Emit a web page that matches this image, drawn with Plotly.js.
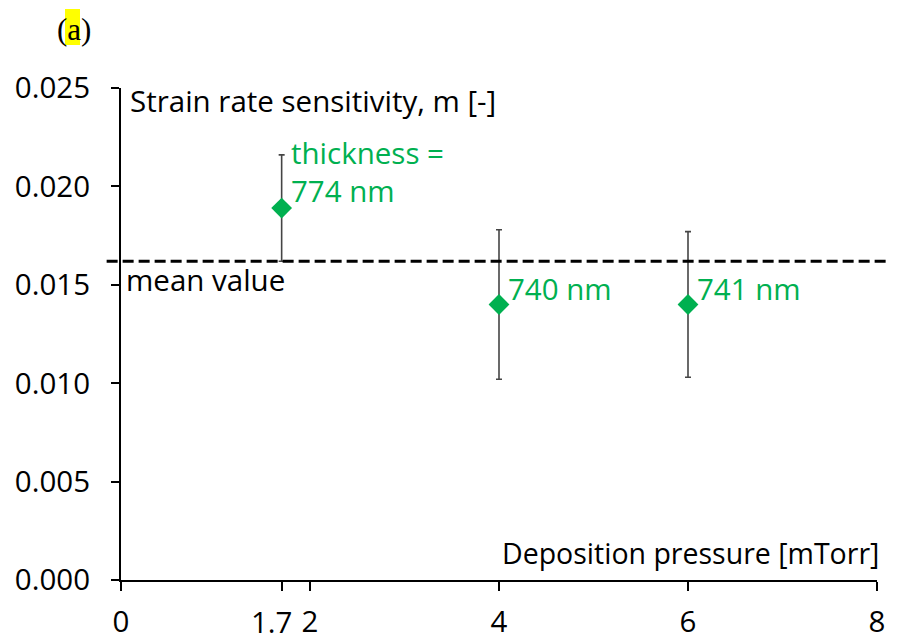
<!DOCTYPE html>
<html>
<head>
<meta charset="utf-8">
<script src="https://cdn.plot.ly/plotly-3.0.1.min.js"></script>
<style>
  html, body { margin: 0; padding: 0; background: #fff; }
  #chart { width: 897px; height: 641px; }
</style>
</head>
<body>
<div id="chart"></div>
<script>
// Deposition pressure [mTorr] and strain rate sensitivity m with error bars
const pressure = [1.7, 4, 6];
const sensitivity = [0.0189, 0.0140, 0.0140];
const sensitivityErr = [0.0027, 0.0038, 0.0037];
const thicknessLabels = ['thickness =<br>774 nm', '740 nm', '741 nm'];
const meanValue = 0.0162;

const xTickVals = [0, 1.7, 2, 4, 6, 8];
// "1.7" is written separately (shifted left) so it clears the "2" beside it
const xTickText = ['0', '', '2', '4', '6', '8'];
const shiftedTick = { value: 1.7, text: '1.7' };
const yTickVals = [0, 0.005, 0.010, 0.015, 0.020, 0.025];

const xRange = [0, 8];
const yRange = [0, 0.025];

const green = '#00B050';
const font = '"Open Sans", Lato, sans-serif';
const fs = 29.5;

const trace = {
  x: pressure,
  y: sensitivity,
  type: 'scatter',
  mode: 'markers',
  marker: { symbol: 'diamond', size: 16, color: green },
  error_y: {
    type: 'data',
    array: sensitivityErr,
    visible: true,
    color: '#454545',
    thickness: 1.6,
    width: 3
  },
  cliponaxis: false,
  showlegend: false,
  hoverinfo: 'x+y'
};

// green thickness labels, placed beside each point
const labelAnns = pressure.map((p, i) => ({
  x: p,
  y: sensitivity[i],
  xref: 'x',
  yref: 'y',
  text: thicknessLabels[i],
  showarrow: false,
  xanchor: 'left',
  yanchor: 'middle',
  xshift: 7,
  yshift: i === 0 ? 37 : 16,
  align: 'left',
  font: { family: font, size: fs, color: green }
}));

const layout = {
  width: 897,
  height: 641,
  margin: { l: 121, r: 20, t: 88, b: 61 },
  paper_bgcolor: '#ffffff',
  plot_bgcolor: '#ffffff',
  font: { family: font, size: fs, color: '#000' },
  xaxis: {
    range: xRange,
    tickvals: xTickVals,
    ticktext: xTickText,
    tickangle: 0,
    showgrid: false,
    zeroline: false,
    showline: true,
    linecolor: '#000',
    linewidth: 2,
    ticks: 'outside',
    ticklen: 9,
    tickwidth: 2,
    tickcolor: '#000',
    ticklabelstandoff: 6,
    tickfont: { family: font, size: fs, color: '#000' }
  },
  yaxis: {
    range: yRange,
    tickvals: yTickVals,
    tickformat: '.3f',
    showgrid: false,
    zeroline: false,
    showline: true,
    linecolor: '#000',
    linewidth: 2,
    ticks: 'outside',
    ticklen: 8,
    tickwidth: 2,
    tickcolor: '#000',
    ticklabelstandoff: 15,
    tickfont: { family: font, size: fs, color: '#000' }
  },
  shapes: [
    // mean value line, running slightly past both ends of the plot area
    {
      type: 'line',
      xref: 'paper',
      yref: 'paper',
      x0: -0.019,
      x1: 1.015,
      y0: meanValue / yRange[1],
      y1: meanValue / yRange[1],
      line: { color: '#000', width: 3, dash: '11px,5px' },
      layer: 'above'
    },
    // highlight behind the panel letter
    {
      type: 'rect',
      xref: 'paper',
      yref: 'paper',
      x0: (65 - 121) / 756,
      x1: (80 - 121) / 756,
      y0: (580 - 45) / 492,
      y1: (580 - 9) / 492,
      fillcolor: '#ffff00',
      line: { width: 0 },
      layer: 'below'
    }
  ],
  annotations: [
    {
      xref: 'x', yref: 'paper',
      x: shiftedTick.value, y: 0,
      xanchor: 'center', yanchor: 'middle',
      xshift: -10, yshift: -41,
      text: shiftedTick.text, showarrow: false,
      font: { family: font, size: fs, color: '#000' }
    },
    {
      xref: 'paper', yref: 'paper',
      x: (55 - 121) / 756, y: (580 - 29) / 492,
      xanchor: 'left', yanchor: 'middle',
      text: '(a)', showarrow: false,
      font: { family: '"Liberation Serif", serif', size: 31, color: '#000' }
    },
    {
      xref: 'paper', yref: 'paper',
      x: (128 - 121) / 756, y: (580 - 101) / 492,
      xanchor: 'left', yanchor: 'middle',
      text: 'Strain rate sensitivity, m [-]', showarrow: false,
      font: { family: font, size: fs, color: '#000' }
    },
    {
      xref: 'paper', yref: 'paper',
      x: (881 - 121) / 756, y: (580 - 553) / 492,
      xanchor: 'right', yanchor: 'middle',
      text: 'Deposition pressure [mTorr]', showarrow: false,
      font: { family: font, size: 28.5, color: '#000' }
    },
    {
      xref: 'paper', yref: 'y',
      x: (124 - 121) / 756, y: meanValue,
      xanchor: 'left', yanchor: 'middle',
      yshift: -18,
      text: 'mean value', showarrow: false,
      font: { family: font, size: fs, color: '#000' }
    }
  ].concat(labelAnns)
};

Plotly.newPlot('chart', [trace], layout, { staticPlot: true, displayModeBar: false });
</script>
</body>
</html>
